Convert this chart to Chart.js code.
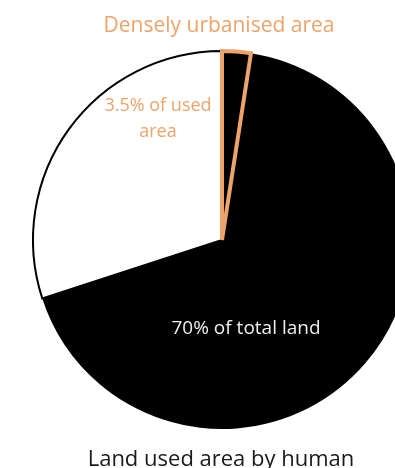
<!DOCTYPE html>
<html>
<head>
<meta charset="utf-8">
<script src="https://cdn.jsdelivr.net/npm/chart.js@4"></script>
<style>
  html, body { margin: 0; padding: 0; background: #fff; }
  #wrap { position: relative; width: 395px; height: 468px; overflow: hidden; }
</style>
</head>
<body>
<div id="wrap"><canvas id="pie" width="395" height="468"></canvas></div>
<script>
// shares of total land (%), drawn clockwise starting just after the urbanised wedge
const sliceNames = ['Land used (rest)', 'Not used', 'Densely urbanised area'];
const sliceValues = [67.55, 30, 2.45];   // 70% used, 3.5% of that urbanised
const sliceFill = ['#000000', '#ffffff', '#000000'];
const sliceBorder = ['#000000', '#000000', '#eca46b'];

const topLabel = 'Densely urbanised area';
const usedLabel = ['3.5% of used', 'area'];
const totalLabel = '70% of total land';
const chartTitle = 'Land used area by human';

const ORANGE = '#eca46b';
const FONT = '"Open Sans", "Noto Sans", sans-serif';

const labelsPlugin = {
  id: 'labels',
  afterDraw(chart) {
    const ctx = chart.ctx;
    ctx.save();
    ctx.textAlign = 'center';
    ctx.textBaseline = 'alphabetic';

    ctx.fillStyle = ORANGE;
    ctx.font = '21px ' + FONT;
    ctx.fillText(topLabel, 219, 32);

    ctx.font = '18px ' + FONT;
    ctx.fillText(usedLabel[0], 158, 111);
    ctx.fillText(usedLabel[1], 158, 137);

    ctx.fillStyle = '#eeeeee';
    ctx.font = '19px ' + FONT;
    ctx.fillText(totalLabel, 246, 334);

    ctx.fillStyle = '#1a1a1a';
    ctx.font = '22px ' + FONT;
    ctx.fillText(chartTitle, 221, 466);
    ctx.restore();
  }
};

new Chart(document.getElementById('pie'), {
  type: 'pie',
  data: {
    labels: sliceNames,
    datasets: [{
      data: sliceValues,
      backgroundColor: sliceFill,
      borderColor: sliceBorder,
      borderWidth: [0, 2, 4],
      borderJoinStyle: 'miter',
      clip: false
    }]
  },
  options: {
    responsive: false,
    animation: false,
    rotation: 8.82,
    radius: 189,
    layout: { padding: { left: 49, right: 0, top: 40, bottom: 28 } },
    plugins: {
      legend: { display: false },
      tooltip: { enabled: false }
    }
  },
  plugins: [labelsPlugin]
});
</script>
</body>
</html>
